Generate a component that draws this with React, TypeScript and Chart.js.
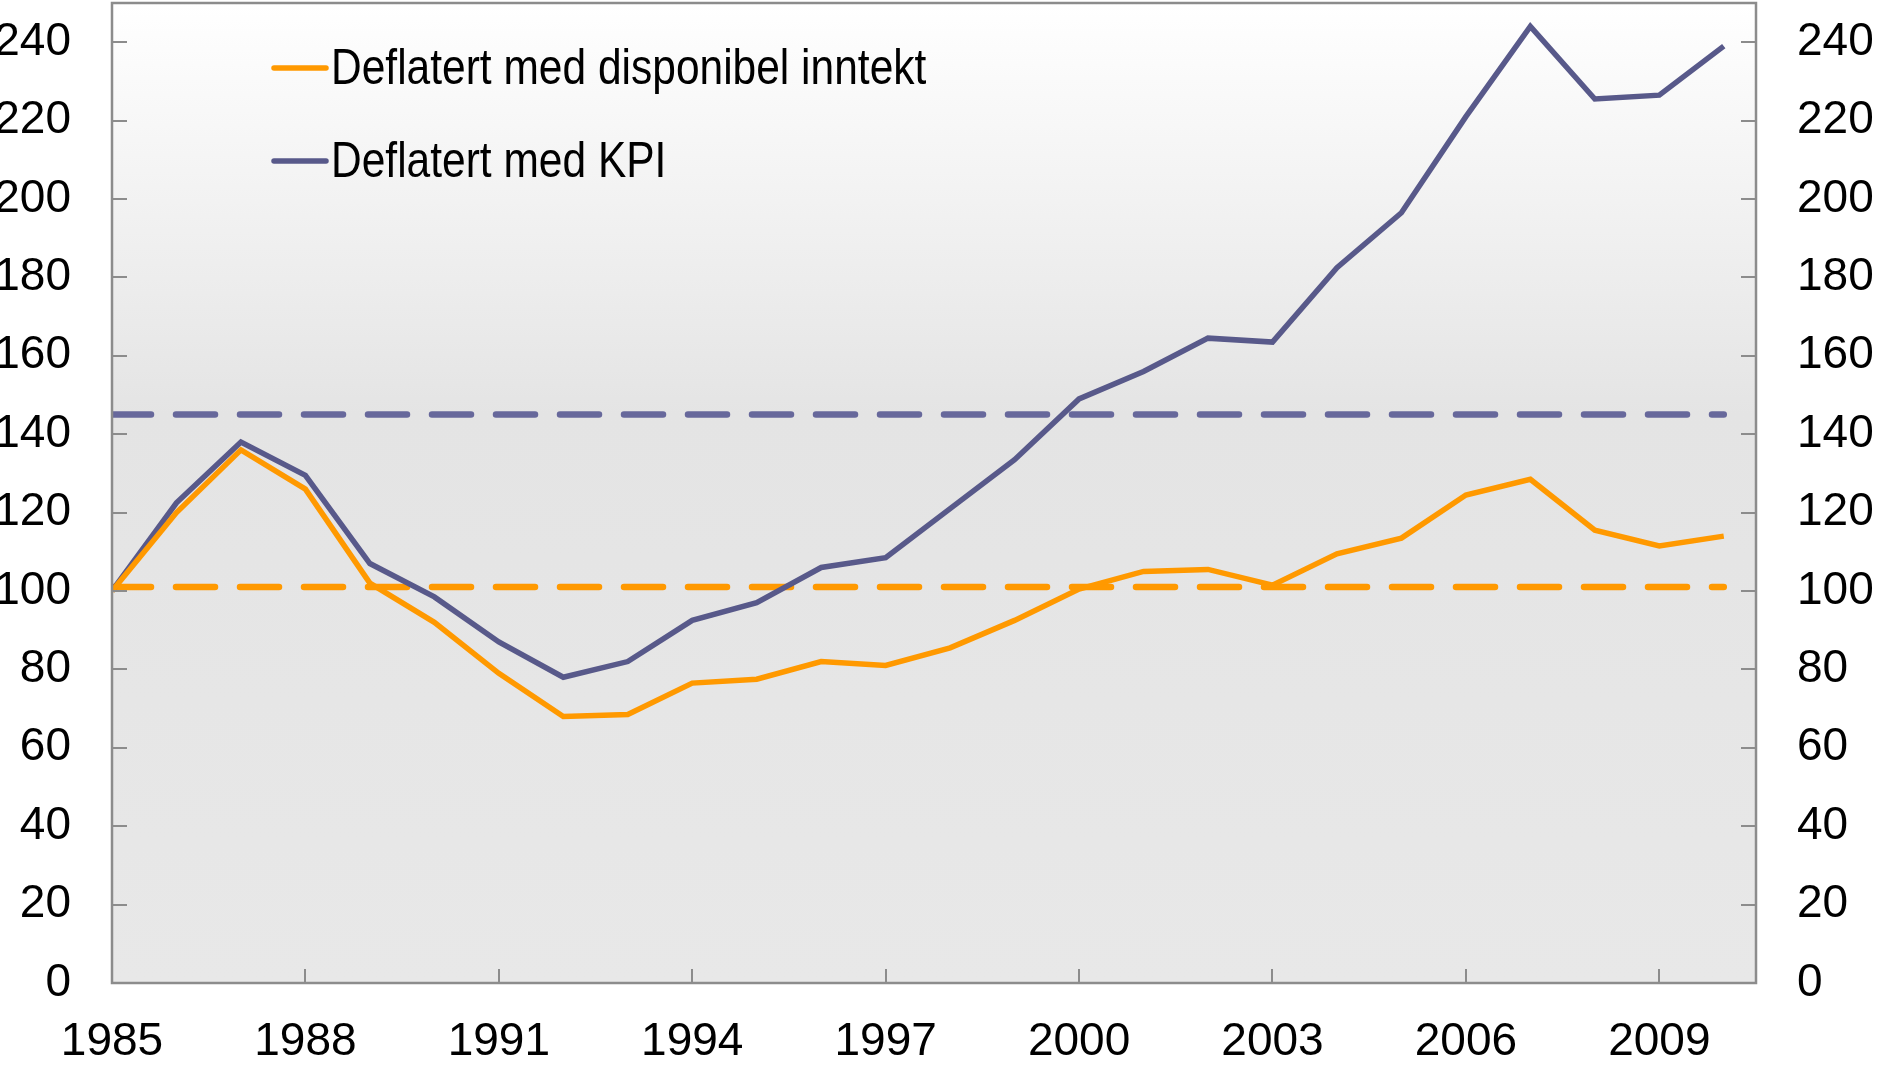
import React, { useEffect, useRef } from "react";
import { Chart, registerables } from "chart.js";

Chart.register(...registerables);

// ---------- data ----------
const years = [
  1985, 1986, 1987, 1988, 1989, 1990, 1991, 1992, 1993, 1994, 1995, 1996, 1997,
  1998, 1999, 2000, 2001, 2002, 2003, 2004, 2005, 2006, 2007, 2008, 2009, 2010,
];
const deflatedByIncome = [
  100, 120, 136, 126, 102, 92, 79, 68, 68.5, 76.5, 77.5, 82, 81,
  85.5, 92.5, 100.5, 105, 105.5, 101.5, 109.5, 113.5, 124.5, 128.5, 115.5, 111.5, 114,
];
const deflatedByCpi = [
  100, 122.5, 138, 129.5, 107, 98.5, 87, 78, 82, 92.5, 97, 106, 108.5,
  121, 133.5, 149, 156, 164.5, 163.5, 182.5, 196.5, 221, 244, 225.5, 226.5, 239,
];
const avgYears = [1985, 2010];
const avgIncome = [101, 101];
const avgCpi = [145, 145];

const xTickYears = [1985, 1988, 1991, 1994, 1997, 2000, 2003, 2006, 2009];
const yTickValues = [0, 20, 40, 60, 80, 100, 120, 140, 160, 180, 200, 220, 240];

const labelIncome = "Deflatert med disponibel inntekt";
const labelCpi = "Deflatert med KPI";

// ---------- styles ----------
const ORANGE = "#FF9900";
const PURPLE = "#58598A";
const PURPLE_DASH = "#67689B";
const AXIS_GRAY = "#8C8C8C";
const FONT = "'Liberation Sans', Arial, sans-serif";

const toPoints = (xs: number[], ys: number[]) => xs.map((x, i) => ({ x, y: ys[i] }));

const framePlugin = {
  id: "framePlugin",
  beforeDraw(chart: any) {
    const { ctx, chartArea } = chart;
    const { left, top, right, bottom } = chartArea;
    const g = ctx.createLinearGradient(0, top, 0, bottom);
    g.addColorStop(0, "#ffffff");
    g.addColorStop(0.42, "#e4e4e4");
    g.addColorStop(1, "#e8e8e8");
    ctx.save();
    ctx.fillStyle = g;
    ctx.fillRect(left, top, right - left, bottom - top);
    ctx.restore();
  },
  afterDraw(chart: any) {
    const { ctx, chartArea, scales } = chart;
    const { left, top, right, bottom } = chartArea;
    ctx.save();
    ctx.strokeStyle = AXIS_GRAY;
    ctx.lineWidth = 2;
    // inward tick marks
    ctx.beginPath();
    for (const v of yTickValues) {
      const y = Math.round(scales.y.getPixelForValue(v));
      ctx.moveTo(left, y);
      ctx.lineTo(left + 15, y);
      const y2 = Math.round(scales.y2.getPixelForValue(v));
      ctx.moveTo(right, y2);
      ctx.lineTo(right - 15, y2);
    }
    for (const v of xTickYears) {
      const x = Math.round(scales.x.getPixelForValue(v));
      ctx.moveTo(x, bottom);
      ctx.lineTo(x, bottom - 14);
    }
    ctx.stroke();
    // frame
    ctx.lineWidth = 2.5;
    ctx.strokeRect(left, top, right - left, bottom - top);

    // legend
    const items = [
      { label: labelIncome, color: ORANGE },
      { label: labelCpi, color: PURPLE },
    ];
    items.forEach((it, i) => {
      const cy = top + 65 + i * 93;
      const x0 = left + 162;
      ctx.strokeStyle = it.color;
      ctx.lineWidth = 5.5;
      ctx.lineCap = "round";
      ctx.beginPath();
      ctx.moveTo(x0, cy);
      ctx.lineTo(x0 + 52, cy);
      ctx.stroke();
      ctx.save();
      ctx.translate(x0 + 57, cy);
      ctx.scale(0.85, 1);
      ctx.fillStyle = "#000";
      ctx.font = `50px ${FONT}`;
      ctx.textBaseline = "middle";
      ctx.fillText(it.label, 0, 2);
      ctx.restore();
    });
    ctx.restore();
  },
};

export default function App() {
  const canvasRef = useRef<HTMLCanvasElement | null>(null);

  useEffect(() => {
    document.body.style.margin = "0";
    const canvas = canvasRef.current;
    if (!canvas) return;

    const yScale = (position: "left" | "right", width: number) => ({
      type: "linear" as const,
      position,
      min: 0,
      max: 250,
      afterBuildTicks: (scale: any) => {
        scale.ticks = yTickValues.map((v) => ({ value: v }));
      },
      afterFit: (scale: any) => {
        scale.width = width;
        scale.paddingTop = 0;
        scale.paddingBottom = 0;
      },
      grid: { display: false, drawTicks: false },
      border: { display: false },
      ticks: {
        color: "#000",
        font: { size: 46, family: FONT },
        padding: 41,
        callback: (v: any) => String(v),
      },
    });

    const chart = new Chart(canvas, {
      type: "line",
      data: {
        datasets: [
          {
            label: labelIncome,
            data: toPoints(years, deflatedByIncome),
            borderColor: ORANGE,
            borderWidth: 5.5,
            pointRadius: 0,
            tension: 0,
            yAxisID: "y",
          },
          {
            label: labelCpi,
            data: toPoints(years, deflatedByCpi),
            borderColor: PURPLE,
            borderWidth: 5.5,
            pointRadius: 0,
            tension: 0,
            yAxisID: "y",
          },
          {
            label: "Gjennomsnitt disponibel inntekt",
            data: toPoints(avgYears, avgIncome),
            borderColor: ORANGE,
            borderWidth: 6.5,
            borderDash: [39, 25],
            borderCapStyle: "round",
            pointRadius: 0,
            yAxisID: "y",
          },
          {
            label: "Gjennomsnitt KPI",
            data: toPoints(avgYears, avgCpi),
            borderColor: PURPLE_DASH,
            borderWidth: 6.5,
            borderDash: [39, 25],
            borderCapStyle: "round",
            pointRadius: 0,
            yAxisID: "y",
          },
        ],
      },
      options: {
        responsive: false,
        animation: false,
        layout: { padding: { top: 3, left: 0, right: 0, bottom: 0 } },
        plugins: {
          legend: { display: false },
          tooltip: { enabled: false },
        },
        scales: {
          x: {
            type: "linear",
            min: 1985,
            max: 2010.5,
            afterBuildTicks: (scale: any) => {
              scale.ticks = xTickYears.map((v) => ({ value: v }));
            },
            afterFit: (scale: any) => {
              scale.height = 84;
              scale.paddingLeft = 0;
              scale.paddingRight = 0;
            },
            grid: { display: false, drawTicks: false },
            border: { display: false },
            ticks: {
              color: "#000",
              font: { size: 46, family: FONT },
              padding: 32,
              maxRotation: 0,
              autoSkip: false,
              callback: (v: any) => String(v),
            },
          },
          y: yScale("left", 112),
          y2: yScale("right", 127),
        },
      },
      plugins: [framePlugin],
    });

    return () => chart.destroy();
  }, []);

  return (
    <div style={{ width: 1883, height: 1067 }}>
      <canvas ref={canvasRef} width={1883} height={1067} style={{ display: "block" }} />
    </div>
  );
}
